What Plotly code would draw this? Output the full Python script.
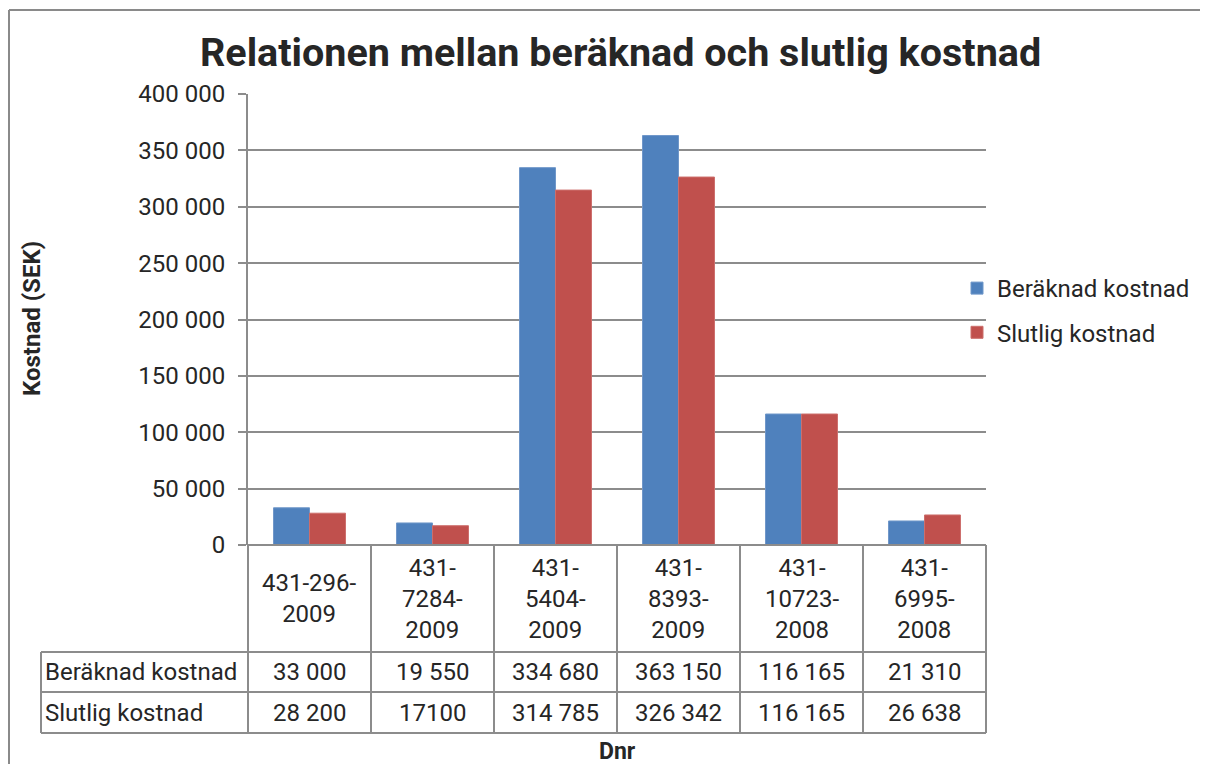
import plotly.graph_objects as go

# ---- data ----
categories = ["431-296-2009", "431-7284-2009", "431-5404-2009",
              "431-8393-2009", "431-10723-2008", "431-6995-2008"]
category_labels = ["431-296-<br>2009", "431-<br>7284-<br>2009", "431-<br>5404-<br>2009",
                   "431-<br>8393-<br>2009", "431-<br>10723-<br>2008", "431-<br>6995-<br>2008"]
beraknad = [33000, 19550, 334680, 363150, 116165, 21310]
slutlig = [28200, 17100, 314785, 326342, 116165, 26638]
beraknad_text = ["33 000", "19 550", "334 680", "363 150", "116 165", "21 310"]
slutlig_text = ["28 200", "17100", "314 785", "326 342", "116 165", "26 638"]
series_names = ["Beräknad kostnad", "Slutlig kostnad"]
y_ticks = [0, 50000, 100000, 150000, 200000, 250000, 300000, 350000, 400000]

# ---- layout constants (screen pixels) ----
W, H = 1208, 764
OFF = 8                   # page body margin
PX0, PX1 = 248, 986       # plot area x
PY_TOP, PY_BOT = 94, 545  # plot area y (400 000 / 0)
ROW_Y = [545, 652, 692, 733]
LABEL_X0 = 41
GRID = "#8c8c8c"
FONT = "Roboto"
TXT = "#262626"
BLUE = "#4F81BD"
RED = "#C0504D"


def px(x):
    return (x - OFF) / W


def py(y):
    return 1 - (y - OFF) / H


n = len(categories)
col_w = (PX1 - PX0) / n

fig = go.Figure()
fig.add_trace(go.Bar(x=list(range(n)), y=beraknad, name=series_names[0],
                     marker=dict(color=BLUE, line=dict(color="#6f97c9", width=1)),
                     legendgroup="a"))
fig.add_trace(go.Bar(x=list(range(n)), y=slutlig, name=series_names[1],
                     marker=dict(color=RED, line=dict(color="#cc6e6b", width=1)),
                     legendgroup="b"))

shapes = []
# outer chart border (top and left)
shapes.append(dict(type="line", xref="paper", yref="paper", x0=px(9), x1=1.0, y0=py(10), y1=py(10),
                   line=dict(color="#8a8a8a", width=2)))
shapes.append(dict(type="line", xref="paper", yref="paper", x0=px(9), x1=px(9), y0=py(10), y1=0,
                   line=dict(color="#8a8a8a", width=2)))
# table horizontal lines
shapes.append(dict(type="line", xref="paper", yref="paper", x0=px(PX0), x1=px(PX1),
                   y0=py(ROW_Y[0]), y1=py(ROW_Y[0]), line=dict(color=GRID, width=2)))
for yy in ROW_Y[1:]:
    shapes.append(dict(type="line", xref="paper", yref="paper", x0=px(LABEL_X0), x1=px(PX1),
                       y0=py(yy), y1=py(yy), line=dict(color=GRID, width=2)))
# table vertical lines
shapes.append(dict(type="line", xref="paper", yref="paper", x0=px(LABEL_X0), x1=px(LABEL_X0),
                   y0=py(ROW_Y[1]), y1=py(ROW_Y[3]), line=dict(color=GRID, width=2)))
for k in range(n + 1):
    xx = PX0 + k * col_w
    shapes.append(dict(type="line", xref="paper", yref="paper", x0=px(xx), x1=px(xx),
                       y0=py(ROW_Y[0]), y1=py(ROW_Y[3]), line=dict(color=GRID, width=2)))

annotations = []
annotations.append(dict(text="<b>Relationen mellan beräknad och slutlig kostnad</b>",
                        xref="paper", yref="paper", x=px(620), y=py(52), showarrow=False,
                        font=dict(family=FONT, size=39.5, color=TXT), xanchor="center", yanchor="middle"))
annotations.append(dict(text="<b>Kostnad (SEK)</b>", xref="paper", yref="paper", x=px(32), y=py(319),
                        showarrow=False, textangle=-90, font=dict(family=FONT, size=24, color=TXT),
                        xanchor="center", yanchor="middle"))
annotations.append(dict(text="<b>Dnr</b>", xref="paper", yref="paper", x=px(617), y=py(751),
                        showarrow=False, font=dict(family=FONT, size=23, color=TXT),
                        xanchor="center", yanchor="middle"))
row_centers = [(ROW_Y[0] + ROW_Y[1]) / 2, (ROW_Y[1] + ROW_Y[2]) / 2, (ROW_Y[2] + ROW_Y[3]) / 2]
for i in range(n):
    annotations.append(dict(text=category_labels[i], xref="x", yref="paper", x=i, y=py(row_centers[0]),
                            showarrow=False, font=dict(family=FONT, size=24, color=TXT),
                            xanchor="center", yanchor="middle", align="center"))
    annotations.append(dict(text=beraknad_text[i], xref="x", yref="paper", x=i, y=py(row_centers[1]),
                            showarrow=False, font=dict(family=FONT, size=24, color=TXT),
                            xanchor="center", yanchor="middle"))
    annotations.append(dict(text=slutlig_text[i], xref="x", yref="paper", x=i, y=py(row_centers[2]),
                            showarrow=False, font=dict(family=FONT, size=24, color=TXT),
                            xanchor="center", yanchor="middle"))
for j, name in enumerate(series_names):
    annotations.append(dict(text=name, xref="paper", yref="paper", x=px(43), y=py(row_centers[j + 1]),
                            showarrow=False, font=dict(family=FONT, size=24, color=TXT),
                            xanchor="left", yanchor="middle"))

fig.update_layout(
    width=W, height=H,
    autosize=False,
    margin=dict(l=0, r=0, t=0, b=0, pad=0, autoexpand=False),
    paper_bgcolor="white", plot_bgcolor="white",
    separators=", ",
    barmode="group", bargap=0.415, bargroupgap=0,
    font=dict(family=FONT, color=TXT),
    xaxis=dict(domain=[px(PX0), px(PX1)], range=[-0.5, n - 0.5], showticklabels=False,
               showgrid=False, zeroline=False, showline=False, ticks="", automargin=False),
    yaxis=dict(domain=[py(PY_BOT), py(PY_TOP)], range=[0, 400000], tickvals=y_ticks,
               tickformat=",d", showgrid=True, gridcolor=GRID, gridwidth=2,
               zeroline=True, zerolinecolor=GRID, zerolinewidth=2,
               showline=True, linecolor=GRID, linewidth=2,
               ticks="outside", ticklen=8, tickcolor=GRID, tickwidth=2,
               ticklabelstandoff=8, automargin=False,
               tickfont=dict(family=FONT, size=24, color=TXT)),
    legend=dict(x=px(957), y=py(266), xanchor="left", yanchor="top",
                font=dict(family=FONT, size=24, color=TXT),
                traceorder="grouped", tracegroupgap=10, bgcolor="rgba(0,0,0,0)"),
    shapes=shapes,
    annotations=annotations,
)

fig.write_html("out.html")
